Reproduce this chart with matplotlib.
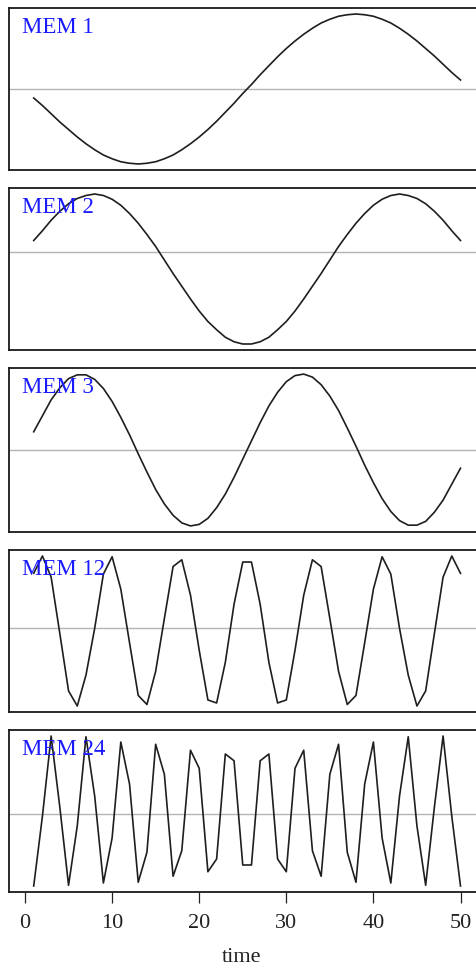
import matplotlib.pyplot as plt
import numpy as np

time = np.arange(1, 51)

mem1 = [-0.12, -0.22, -0.33, -0.44, -0.54, -0.64, -0.73, -0.81, -0.88, -0.93,
        -0.97, -0.99, -1.00, -0.99, -0.97, -0.93, -0.88, -0.81, -0.73, -0.64,
        -0.54, -0.43, -0.31, -0.19, -0.06, 0.06, 0.19, 0.31, 0.43, 0.54,
        0.64, 0.73, 0.81, 0.88, 0.93, 0.97, 0.99, 1.00, 0.99, 0.97,
        0.93, 0.88, 0.81, 0.73, 0.64, 0.54, 0.44, 0.33, 0.22, 0.12]
mem2 = [0.15, 0.28, 0.42, 0.54, 0.64, 0.71, 0.75, 0.77, 0.75, 0.70,
        0.62, 0.51, 0.38, 0.23, 0.07, -0.11, -0.29, -0.46, -0.63, -0.79,
        -0.93, -1.04, -1.14, -1.20, -1.23, -1.23, -1.20, -1.14, -1.04, -0.93,
        -0.79, -0.63, -0.46, -0.29, -0.11, 0.07, 0.23, 0.38, 0.51, 0.62,
        0.70, 0.75, 0.77, 0.75, 0.71, 0.64, 0.54, 0.42, 0.28, 0.15]
mem3 = [0.24, 0.45, 0.66, 0.82, 0.94, 0.99, 0.99, 0.93, 0.81, 0.64,
        0.43, 0.20, -0.05, -0.29, -0.52, -0.71, -0.86, -0.96, -1.00, -0.98,
        -0.90, -0.76, -0.58, -0.36, -0.12, 0.12, 0.36, 0.58, 0.76, 0.90,
        0.98, 1.00, 0.96, 0.86, 0.71, 0.52, 0.29, 0.05, -0.20, -0.43,
        -0.64, -0.81, -0.93, -0.99, -0.99, -0.94, -0.82, -0.66, -0.45, -0.24]
mem12 = [0.73, 0.96, 0.68, -0.07, -0.83, -1.03, -0.62, 0.00, 0.72, 0.95,
         0.52, -0.19, -0.89, -1.01, -0.57, 0.13, 0.82, 0.91, 0.44, -0.29,
         -0.95, -0.99, -0.45, 0.32, 0.88, 0.88, 0.32, -0.45, -0.99, -0.95,
         -0.29, 0.44, 0.91, 0.82, 0.13, -0.57, -1.01, -0.89, -0.19, 0.52,
         0.95, 0.72, 0.00, -0.62, -1.03, -0.83, -0.07, 0.68, 0.96, 0.73]
mem24 = [-0.96, -0.03, 1.04, 0.09, -0.95, -0.16, 1.03, 0.24, -0.92, -0.32,
         0.96, 0.40, -0.91, -0.51, 0.93, 0.53, -0.83, -0.49, 0.85, 0.61,
         -0.77, -0.60, 0.80, 0.71, -0.68, -0.68, 0.71, 0.80, -0.60, -0.77,
         0.61, 0.85, -0.49, -0.83, 0.53, 0.93, -0.51, -0.91, 0.40, 0.96,
         -0.32, -0.92, 0.24, 1.03, -0.16, -0.95, 0.09, 1.04, -0.03, -0.96]

series = [mem1, mem2, mem3, mem12, mem24]
labels = ["MEM 1", "MEM 2", "MEM 3", "MEM 12", "MEM 24"]
xticks = [0, 10, 20, 30, 40, 50]

# panel frames in pixels (top, bottom)
W, H = 476, 968
frames = [(8, 170), (188, 350), (368, 532), (550, 712), (730, 892)]
left_px, right_px = 8.5, 478
px_per_t = 8.71
x0_px = 25

serif = "Liberation Serif"
fig = plt.figure(figsize=(W / 100, H / 100), dpi=100)

for i, (vals, lab, (top, bot)) in enumerate(zip(series, labels, frames)):
    ax = fig.add_axes([left_px / W, 1 - bot / H,
                       (right_px - left_px) / W, (bot - top) / H])
    ax.plot(time, vals, color="#1e1e1e", lw=1.2)
    ax.axhline(0, color="#b4b4b4", lw=1.0, zorder=0)
    ax.set_xlim(-(x0_px - left_px) / px_per_t, (right_px - x0_px) / px_per_t)
    lo, hi = min(vals), max(vals)
    pad = 0.04 * (hi - lo)
    ax.set_ylim(lo - pad, hi + pad)
    for s in ax.spines.values():
        s.set_linewidth(1.3)
        s.set_color("#1a1a1a")
    ax.set_yticks([])
    ax.annotate(lab, xy=(0, 1), xycoords="axes fraction",
                xytext=(13, -25), textcoords="offset pixels",
                color="#1a1aff", fontsize=16.5, family=serif, va="baseline")
    if i == len(series) - 1:
        ax.set_xticks(xticks)
        ax.tick_params(axis="x", length=8, width=0.9, pad=7.5,
                       labelsize=16, colors="#222222")
        for t in ax.get_xticklabels():
            t.set_family(serif)
    else:
        ax.set_xticks([])

fig.text(242 / W, 1 - 962 / H, "time", ha="center", va="baseline",
         fontsize=16, family=serif, color="#222222")

fig.savefig("out.png", dpi=100)
